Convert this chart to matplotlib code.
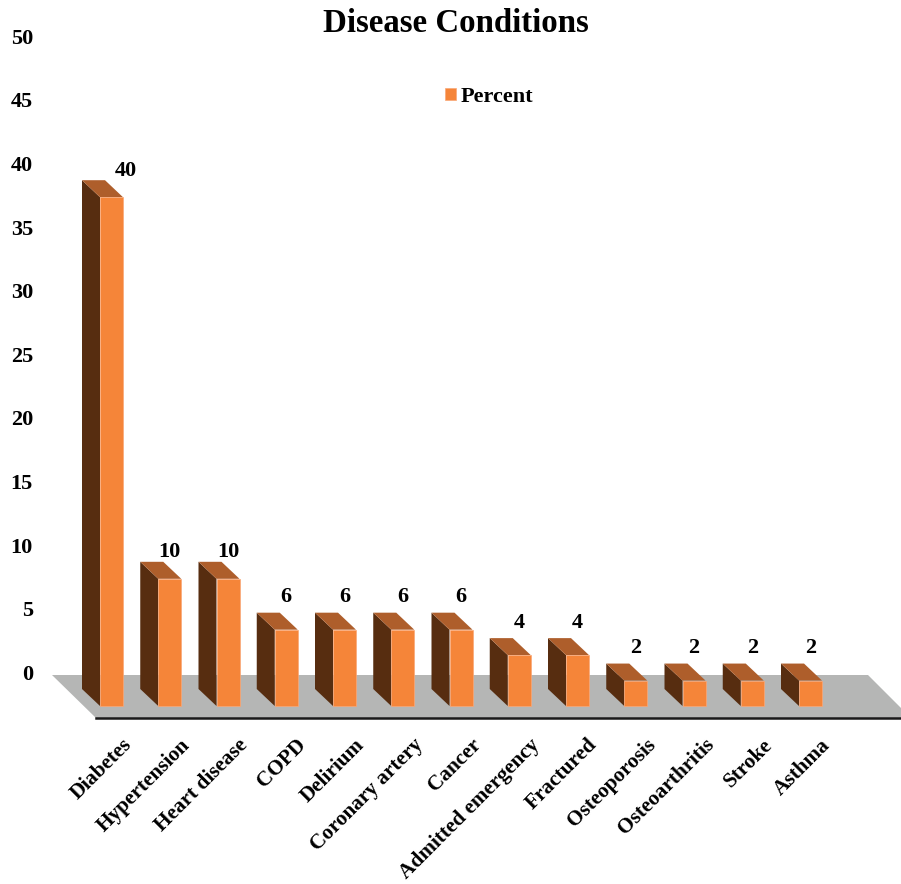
import matplotlib
matplotlib.use('Agg')
import matplotlib.pyplot as plt

plt.rcParams['font.family'] = ['Liberation Serif', 'DejaVu Serif']
plt.rcParams['font.weight'] = 'bold'

condiciones = ["Diabetes", "Hypertension", "Heart disease", "COPD", "Delirium",
               "Coronary artery", "Cancer", "Admitted emergency", "Fractured",
               "Osteoporosis", "Osteoarthritis", "Stroke", "Asthma"]
porcentaje = [40, 10, 10, 6, 6, 6, 6, 4, 4, 2, 2, 2, 2]
ticks_y = [0, 5, 10, 15, 20, 25, 30, 35, 40, 45, 50]

ancho_fig = 901
alto_fig = 884
px_x = 58.25   # pixeles por categoria
px_y = 12.72   # pixeles por unidad de porcentaje
x0 = 111.5     # pixel del centro de la primera barra
y0 = 706       # pixel de la base de las barras

ancho = 23 / px_x
dx = 18 / px_x   # profundidad oblicua de las barras
dy = 17 / px_y

naranja = '#F58539'
cafe = '#572D10'
tapa = '#AE5E2B'
gris = '#B5B6B5'

fig = plt.figure(figsize=(ancho_fig / 100, alto_fig / 100), dpi=100)
ax = fig.add_axes([0, 0, 1, 1])
ax.set_xlim(-x0 / px_x, (ancho_fig - x0) / px_x)
ax.set_ylim((y0 - alto_fig) / px_y, y0 / px_y)
ax.axis('off')

# piso gris y linea frontal
piso_x = [(p - x0) / px_x for p in [52, 868, 901, 901, 96]]
piso_y = [(y0 - p) / px_y for p in [675, 675, 708, 718, 718]]
ax.fill(piso_x, piso_y, color=gris, lw=0, zorder=1)
ax.plot([(96 - x0) / px_x, (901 - x0) / px_x], [(y0 - 718) / px_y] * 2,
        color='#1A1A1A', lw=1.8, zorder=2)

# barras: cara frontal con bar, cara lateral y tapa con fill
pos = list(range(len(porcentaje)))
ax.bar(pos, porcentaje, width=ancho, color=naranja, edgecolor='#F9A878',
       linewidth=0.5, label="Percent", zorder=4)
for i, v in zip(pos, porcentaje):
    izq = i - ancho / 2
    der = i + ancho / 2
    ax.fill([izq, izq - dx, izq - dx, izq], [0, dy, v + dy, v], color=cafe, lw=0, zorder=3)
    ax.fill([izq, izq - dx, der - dx, der], [v, v + dy, v + dy, v], color=tapa, lw=0, zorder=3)

# etiquetas de valor
for i, v in zip(pos, porcentaje):
    sube = 0.75 if v in (40, 10) else 1.2
    corre = 0.25 if v == 40 else 0.0
    ax.text(i + corre, v + dy + sube, str(v), ha='center', va='center',
            fontsize=16, zorder=5)

# eje y sobre la pared del fondo
for t in ticks_y:
    ax.text((33 - x0) / px_x, t + 2.45, str(t), ha='right', va='center', fontsize=16)

# categorias giradas
for i, nombre in zip(pos, condiciones):
    ax.text(i + 0.17, (y0 - 735) / px_y, nombre, rotation=45, ha='right', va='top',
            rotation_mode='anchor', fontsize=15.3)

ax.text((456 - x0) / px_x, (y0 - 24) / px_y, "Disease Conditions", ha='center', va='center',
        fontsize=23.7)

ax.legend(loc='center', bbox_to_anchor=(489 / ancho_fig, 1 - 97 / alto_fig), frameon=False,
          fontsize=16, handlelength=0.5, handleheight=0.5, handletextpad=0.2)

plt.savefig("out.png", dpi=100)
